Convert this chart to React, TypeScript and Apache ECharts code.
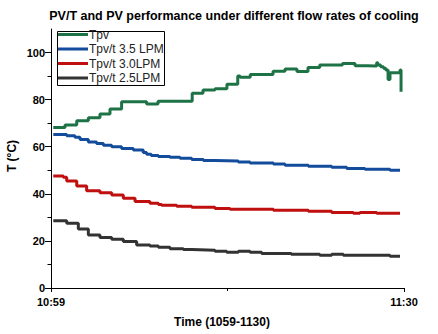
import React, { useEffect, useRef } from "react";
import * as echarts from "echarts";

// minutes after 10:59 and temperatures (°C)
const tpvMinutes = [0.2, 1.23, 2.26, 3.28, 4.3, 5.18, 6.2, 8.4, 9.4, 12.4, 13.35, 14.4, 15.45, 16.4, 16.6, 17.5, 19.5, 20.55, 21.6, 22.57, 23.6, 25.6, 26.7, 27.75, 28.6, 28.7, 28.95, 29.2, 29.4, 29.6, 29.77, 30.65, 30.74];
const tpvValues = [68.2, 69.2, 71.0, 72.3, 73.9, 76.0, 79.1, 78.1, 79.3, 82.7, 84.1, 84.6, 86.5, 90.0, 89.5, 90.7, 92.1, 93.0, 91.9, 93.6, 94.7, 95.4, 94.4, 94.3, 95.7, 94.7, 94.0, 93.3, 92.6, 88.6, 91.4, 92.6, 83.4];

const lpm35Minutes = [0.2, 1.38, 2.1, 2.55, 3.28, 4.0, 4.6, 5.33, 6.2, 7.23, 8.1, 8.4, 8.8, 9.43, 10.45, 11.33, 12.36, 13.38, 14.4, 16.45, 17.48, 19.53, 20.55, 22.6, 24.65, 25.97, 27.57, 29.77, 30.65];
const lpm35Values = [65.2, 64.7, 64.0, 63.1, 62.0, 61.4, 60.6, 60.0, 59.3, 58.6, 57.6, 56.8, 56.3, 55.9, 55.5, 55.1, 54.6, 54.2, 53.9, 53.5, 53.1, 52.7, 52.1, 51.7, 51.3, 50.8, 50.4, 50.0, 50.0];

const lpm30Minutes = [0.2, 1.08, 1.38, 2.26, 3.13, 4.3, 5.33, 6.35, 7.38, 8.69, 9.43, 9.72, 11.04, 12.36, 14.4, 15.72, 19.53, 22.6, 24.65, 26.55, 27.13, 28.6, 30.65];
const lpm30Values = [47.6, 47.0, 45.4, 43.3, 41.3, 40.5, 39.5, 38.1, 36.7, 36.0, 35.5, 35.1, 34.7, 34.3, 33.8, 33.4, 33.0, 32.6, 32.1, 31.7, 32.1, 31.7, 31.7];

const lpm25Minutes = [0.2, 1.38, 2.4, 3.28, 4.3, 5.33, 6.35, 7.52, 8.69, 9.43, 10.45, 11.62, 12.36, 14.4, 15.43, 16.45, 17.48, 18.5, 21.1, 23.6, 24.65, 25.67, 29.77, 30.65];
const lpm25Values = [28.6, 27.5, 25.1, 22.5, 21.5, 20.7, 19.7, 18.3, 17.8, 17.3, 16.7, 16.3, 16.0, 15.6, 15.2, 15.6, 15.2, 14.7, 14.3, 13.9, 14.3, 13.9, 13.5, 13.5];

const seriesNames = ["Tpv", "Tpv/t 3.5 LPM", "Tpv/t 3.0LPM", "Tpv/t 2.5LPM"];
const seriesColors = ["#1e7346", "#144c9c", "#c00f0f", "#333333"];

const xTickValues = [0, 31];
const xTickLabels = ["10:59", "11:30"];
const yTickValues = [0, 20, 40, 60, 80, 100];
const yMinorTickValues = [10, 30, 50, 70, 90];

const FONT = "'Liberation Sans', Arial, Helvetica, sans-serif";

const pair = (xs: number[], ys: number[]) => xs.map((x, i) => [x, ys[i]]);

export default function App() {
  const ref = useRef<HTMLDivElement>(null);
  useEffect(() => {
    if (!ref.current) return;
    const chart = echarts.init(ref.current, null, { renderer: "svg" });
    const allData = [
      pair(tpvMinutes, tpvValues),
      pair(lpm35Minutes, lpm35Values),
      pair(lpm30Minutes, lpm30Values),
      pair(lpm25Minutes, lpm25Values),
    ];
    const legendRows = [34.5, 49, 63.5, 78];
    const legendGraphics: any[] = [
      {
        type: "rect",
        shape: { x: 57.5, y: 31.5, width: 107, height: 54 },
        style: { fill: "#fff", stroke: "#000", lineWidth: 1 },
        z: 100,
      },
    ];
    seriesNames.forEach((n, i) => {
      legendGraphics.push({
        type: "line",
        shape: { x1: 58, y1: legendRows[i], x2: 88, y2: legendRows[i] },
        style: { stroke: seriesColors[i], lineWidth: 3 },
        z: 101,
      });
      legendGraphics.push({
        type: "text",
        x: 89,
        y: legendRows[i],
        style: {
          text: n,
          font: `12px ${FONT}`,
          fill: "#222",
          textAlign: "left",
          textVerticalAlign: "middle",
        },
        z: 101,
      });
    });
    chart.setOption({
      animation: false,
      backgroundColor: "#fff",
      title: {
        text: "PV/T and PV performance under different flow rates of cooling",
        left: 229,
        top: 4,
        textAlign: "center",
        textStyle: { fontFamily: FONT, fontWeight: "bold", fontSize: 12.5, color: "#000" },
      },
      grid: { left: 51, right: 34, top: 29, bottom: 46, containLabel: false },
      xAxis: {
        type: "value",
        min: 0,
        max: 31,
        interval: 31,
        splitLine: { show: false },
        axisLine: { show: true, lineStyle: { color: "#000", width: 1 } },
        axisTick: { show: true, length: 4, lineStyle: { color: "#000" } },
        minorTick: { show: true, splitNumber: 2, length: 3, lineStyle: { color: "#000" } },
        axisLabel: {
          margin: 8,
          fontFamily: FONT,
          fontWeight: "bold",
          fontSize: 11,
          color: "#000",
          formatter: (v: number) => xTickLabels[xTickValues.indexOf(v)] ?? "",
        },
      },
      yAxis: [
        {
          type: "value",
          min: 0,
          max: 110,
          interval: 10,
          splitLine: { show: false },
          axisLine: { show: true, lineStyle: { color: "#000", width: 1 } },
          axisTick: { show: true, length: 6, customValues: yTickValues, lineStyle: { color: "#000" } },
          axisLabel: {
            margin: 6,
            customValues: yTickValues,
            fontFamily: FONT,
            fontWeight: "bold",
            fontSize: 11,
            color: "#000",
          },
        },
        {
          type: "value",
          min: 0,
          max: 110,
          interval: 10,
          position: "left",
          splitLine: { show: false },
          axisLine: { show: false },
          axisTick: { show: true, length: 3.5, customValues: yMinorTickValues, lineStyle: { color: "#000" } },
          axisLabel: { show: false },
        },
      ],
      graphic: [
        {
          type: "text",
          x: 11.5,
          y: 156,
          rotation: Math.PI / 2,
          style: {
            text: "T (°C)",
            font: `bold 12px ${FONT}`,
            fill: "#000",
            textAlign: "center",
            textVerticalAlign: "middle",
          },
        },
        {
          type: "text",
          x: 222,
          y: 322,
          style: {
            text: "Time (1059-1130)",
            font: `bold 12px ${FONT}`,
            fill: "#000",
            textAlign: "center",
            textVerticalAlign: "middle",
          },
        },
        ...legendGraphics,
      ],
      series: allData.map((d, i) => ({
        name: seriesNames[i],
        type: "line",
        step: "end",
        data: d,
        showSymbol: false,
        symbol: "none",
        lineStyle: { color: seriesColors[i], width: 3 },
        itemStyle: { color: seriesColors[i] },
        z: 2 + (3 - i),
      })),
    });
    return () => chart.dispose();
  }, []);
  return (
    <div
      ref={ref}
      style={{ position: "absolute", left: 0, top: 0, width: 438, height: 334 }}
    />
  );
}
